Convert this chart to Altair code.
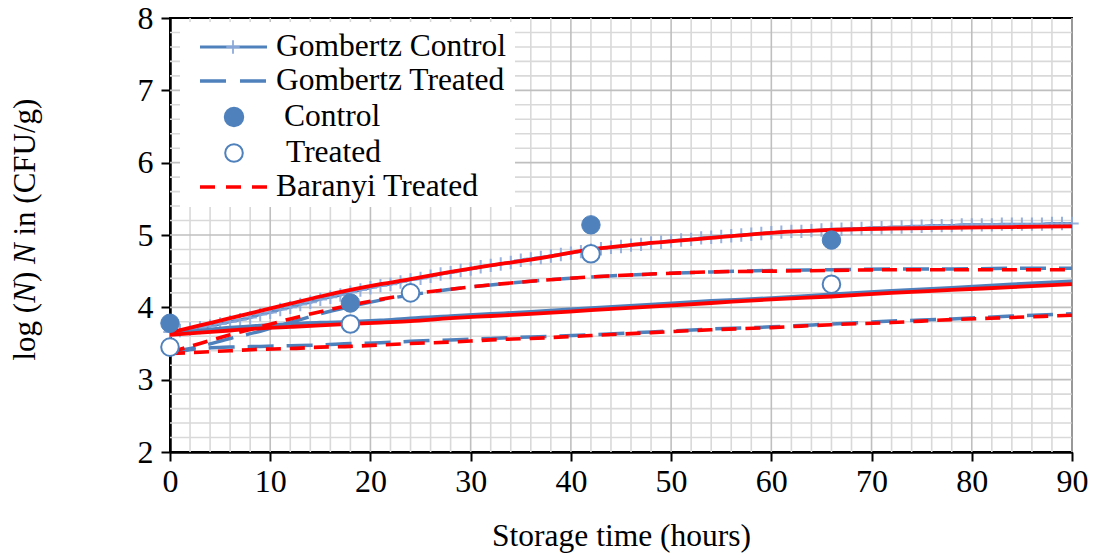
import altair as alt
import pandas as pd

# Observed counts, log(N) CFU/g
control_hours = [0, 18, 42, 66]
control_obs = [3.78, 4.06, 5.14, 4.93]
treated_hours = [0, 18, 24, 42, 66]
treated_obs = [3.45, 3.77, 4.20, 4.74, 4.32]

# Gompertz fit for the control group, one value per hour (drawn with + markers)
gompertz_control_hours = list(range(0, 91))
gompertz_control = [
    3.66, 3.68, 3.70, 3.72, 3.74, 3.77, 3.80, 3.83, 3.86, 3.90,
    3.93, 3.97, 4.00, 4.04, 4.07, 4.11, 4.14, 4.17, 4.21, 4.24,
    4.27, 4.30, 4.32, 4.35, 4.38, 4.40, 4.43, 4.46, 4.48, 4.51,
    4.53, 4.56, 4.58, 4.60, 4.62, 4.65, 4.67, 4.69, 4.71, 4.73,
    4.75, 4.77, 4.79, 4.81, 4.83, 4.84, 4.86, 4.87, 4.89, 4.90,
    4.92, 4.93, 4.94, 4.96, 4.97, 4.98, 4.99, 5.00, 5.01, 5.02,
    5.03, 5.04, 5.05, 5.05, 5.06, 5.07, 5.08, 5.08, 5.09, 5.09,
    5.10, 5.10, 5.11, 5.11, 5.12, 5.12, 5.13, 5.13, 5.13, 5.14,
    5.14, 5.14, 5.14, 5.15, 5.15, 5.15, 5.15, 5.15, 5.16, 5.16,
    5.16,
]

# Remaining fitted curves, sampled on a common hour grid
fit_hours = [0, 3, 6, 9, 12, 15, 18, 21, 24, 28, 32, 36, 42, 48, 54, 60, 66, 72, 78, 84, 90]
baranyi_control = [3.65, 3.75, 3.85, 3.95, 4.05, 4.15, 4.24, 4.32, 4.39, 4.49, 4.58,
                   4.66, 4.80, 4.89, 4.96, 5.03, 5.07, 5.09, 5.10, 5.11, 5.12]
gompertz_control_low = [3.64, 3.68, 3.72, 3.75, 3.77, 3.79, 3.80, 3.82, 3.85, 3.88, 3.91,
                        3.94, 3.99, 4.04, 4.09, 4.13, 4.18, 4.23, 4.27, 4.32, 4.36]
baranyi_control_low = [3.62, 3.65, 3.68, 3.71, 3.73, 3.75, 3.77, 3.79, 3.81, 3.85, 3.88,
                       3.91, 3.96, 4.01, 4.06, 4.11, 4.15, 4.20, 4.24, 4.28, 4.32]
gompertz_treated = [3.38, 3.46, 3.57, 3.67, 3.79, 3.91, 4.01, 4.10, 4.17, 4.25, 4.31,
                    4.36, 4.42, 4.46, 4.49, 4.51, 4.52, 4.53, 4.53, 4.54, 4.54]
baranyi_treated = [3.38, 3.50, 3.62, 3.73, 3.84, 3.94, 4.03, 4.11, 4.18, 4.25, 4.31,
                   4.36, 4.42, 4.46, 4.49, 4.50, 4.51, 4.52, 4.52, 4.52, 4.52]
gompertz_treated_low = [3.37, 3.43, 3.45, 3.46, 3.47, 3.48, 3.50, 3.51, 3.53, 3.55, 3.57,
                        3.59, 3.62, 3.66, 3.70, 3.73, 3.77, 3.81, 3.84, 3.88, 3.91]
baranyi_treated_low = [3.36, 3.38, 3.40, 3.42, 3.43, 3.45, 3.46, 3.48, 3.50, 3.52, 3.55,
                       3.57, 3.61, 3.65, 3.69, 3.72, 3.76, 3.79, 3.83, 3.86, 3.89]

# Axis ticks and grid
x_ticks = [0, 10, 20, 30, 40, 50, 60, 70, 80, 90]
y_ticks = [2, 3, 4, 5, 6, 7, 8]
x_minor = [h for h in range(0, 91, 2) if h % 10]
y_minor = [round(2 + i * 0.2, 1) for i in range(31) if i % 5]

legend_labels = ["Gombertz Control", "Gombertz Treated", "Control", "Treated", "Baranyi Treated"]

BLUE = "#4F81BD"
CROSS = "#8EAADB"
RED = "#FF0000"
FONT = "Liberation Serif"

x_scale = alt.Scale(domain=[0, 90], nice=False, zero=False)
y_scale = alt.Scale(domain=[2, 8], nice=False, zero=False)

x_axis = alt.Axis(values=x_ticks, grid=False, domainColor="black", domainWidth=2.5,
                  tickColor="black", tickWidth=2, tickSize=9, labelFont=FONT,
                  labelFontSize=32, labelColor="black", labelPadding=5,
                  labelFlush=False, labelOverlap=False, titleFont=FONT,
                  titleFontSize=31.5, titleFontWeight="normal", titleColor="black",
                  titlePadding=23)
y_axis = alt.Axis(values=y_ticks, grid=False, domainColor="black", domainWidth=2.5,
                  tickColor="black", tickWidth=2, tickSize=9, labelFont=FONT,
                  labelFontSize=32, labelColor="black", labelPadding=8,
                  labelOverlap=False, title=None)


def X():
    return alt.X("h:Q", scale=x_scale, axis=x_axis, title="Storage time (hours)")


def Y():
    return alt.Y("v:Q", scale=y_scale, axis=y_axis, title=None)


def frame(hours, values):
    return pd.DataFrame({"h": hours, "v": values})


def curve(hours, values, color, width, dash=None, opacity=1.0):
    kw = dict(color=color, strokeWidth=width, strokeCap="butt", interpolate="monotone",
              opacity=opacity)
    if dash:
        kw["strokeDash"] = dash
    return alt.Chart(frame(hours, values)).mark_line(**kw).encode(x=X(), y=Y())


# Grid lines
grid_minor_x = alt.Chart(pd.DataFrame({"h": x_minor})).mark_rule(
    color="#D9D9D9", strokeWidth=1.6).encode(x=X())
grid_minor_y = alt.Chart(pd.DataFrame({"v": y_minor})).mark_rule(
    color="#D9D9D9", strokeWidth=1.6).encode(y=Y())
grid_major_x = alt.Chart(pd.DataFrame({"h": x_ticks[1:]})).mark_rule(
    color="#BFBFBF", strokeWidth=1.6).encode(x=X())
grid_major_y = alt.Chart(pd.DataFrame({"v": y_ticks[1:-1]})).mark_rule(
    color="#BFBFBF", strokeWidth=1.6).encode(y=Y())

# Gompertz curves
g_ctrl = curve(gompertz_control_hours, gompertz_control, BLUE, 3)
plus_path = "M-1,0L1,0M0,-1L0,1"
g_ctrl_marks = alt.Chart(frame(gompertz_control_hours, gompertz_control)).mark_point(
    shape=plus_path, size=180, filled=False, stroke=CROSS, strokeWidth=2, opacity=0.9
).encode(x=X(), y=Y())
g_ctrl_low = curve(fit_hours, gompertz_control_low, BLUE, 3.5)
g_trt = curve(fit_hours, gompertz_treated, BLUE, 3.5, [26, 13])
g_trt_low = curve(fit_hours, gompertz_treated_low, BLUE, 3.5, [26, 13])

# Baranyi curves
b_ctrl = curve(fit_hours, baranyi_control, RED, 3.8)
b_ctrl_low = curve(fit_hours, baranyi_control_low, RED, 3.8)
b_trt = curve(fit_hours, baranyi_treated, RED, 3.6, [15, 9])
b_trt_low = curve(fit_hours, baranyi_treated_low, RED, 3.6, [15, 9])

# Observations
pts_control = alt.Chart(frame(control_hours, control_obs)).mark_point(
    shape="circle", filled=True, fill=BLUE, stroke=BLUE, strokeWidth=1, size=340, opacity=1
).encode(x=X(), y=Y())
pts_treated = alt.Chart(frame(treated_hours, treated_obs)).mark_point(
    shape="circle", filled=True, fill="white", stroke=BLUE, strokeWidth=2, size=310, opacity=1
).encode(x=X(), y=Y())

# Legend panel
one = pd.DataFrame({"k": [0]})
legend_layers = [
    alt.Chart(one).mark_rect(fill="white", stroke=None).encode(
        x=alt.value(10), x2=alt.value(345), y=alt.value(4), y2=alt.value(189)),
    alt.Chart(one).mark_rule(color=BLUE, strokeWidth=3).encode(
        x=alt.value(30), x2=alt.value(97), y=alt.value(29)),
    alt.Chart(one).mark_point(shape=plus_path, size=180, filled=False, stroke=CROSS,
                              strokeWidth=2, opacity=0.9).encode(
        x=alt.value(63), y=alt.value(29)),
    alt.Chart(one).mark_rule(color=BLUE, strokeWidth=3.5, strokeDash=[26, 14],
                             strokeCap="butt").encode(
        x=alt.value(30), x2=alt.value(97), y=alt.value(63)),
    alt.Chart(one).mark_point(shape="circle", filled=True, fill=BLUE, stroke=BLUE,
                              size=340, opacity=1).encode(
        x=alt.value(64), y=alt.value(99)),
    alt.Chart(one).mark_point(shape="circle", filled=True, fill="white", stroke=BLUE,
                              strokeWidth=2, size=310, opacity=1).encode(
        x=alt.value(64), y=alt.value(135)),
    alt.Chart(one).mark_rule(color=RED, strokeWidth=3.5, strokeDash=[15, 11],
                             strokeCap="butt").encode(
        x=alt.value(30), x2=alt.value(97), y=alt.value(169)),
]
for label, xpos, ypos in zip(legend_labels, [106, 106, 114, 116, 106], [29, 63, 99, 135, 169]):
    legend_layers.append(
        alt.Chart(pd.DataFrame({"label": [label]})).mark_text(
            font=FONT, fontSize=31.5, align="left", baseline="middle", color="black"
        ).encode(x=alt.value(xpos), y=alt.value(ypos), text="label:N")
    )

# Y-axis title with italic N, read bottom to top
title_parts = [("log (", "normal", 342.5), ("N", "italic", 284.8), (")", "normal", 264.1),
               ("N", "italic", 246.0), ("in (CFU/g)", "normal", 217.5)]
title_layers = []
for txt, style, ypos in title_parts:
    title_layers.append(
        alt.Chart(pd.DataFrame({"t": [txt]})).mark_text(
            font=FONT, fontSize=31, fontStyle=style, angle=270, align="left",
            baseline="alphabetic", color="black"
        ).encode(x=alt.value(-135), y=alt.value(ypos), text="t:N")
    )

chart = alt.layer(
    grid_minor_x, grid_minor_y, grid_major_x, grid_major_y,
    g_ctrl, g_ctrl_marks, g_ctrl_low, g_trt, g_trt_low,
    b_ctrl, b_ctrl_low, b_trt, b_trt_low,
    pts_control, pts_treated,
    *legend_layers, *title_layers,
).properties(
    width=902, height=434,
    autosize=alt.AutoSizeParams(type="none"),
    padding={"left": 170, "top": 18, "right": 22, "bottom": 103},
    background="white",
).configure_view(stroke="black", strokeWidth=2)

chart.save("out.html", embed_options={"renderer": "svg", "actions": False})
